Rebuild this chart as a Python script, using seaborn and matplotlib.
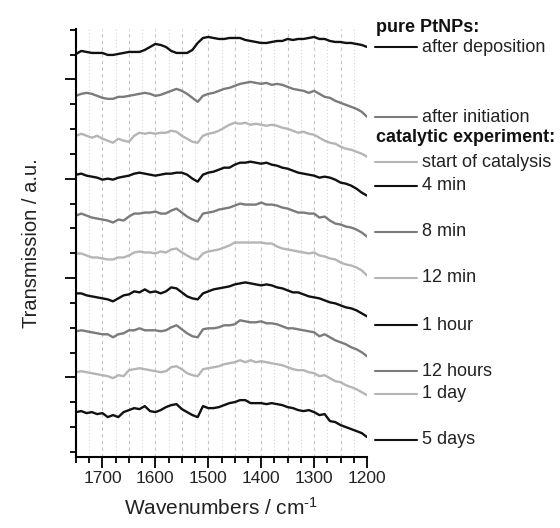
import numpy as np
import pandas as pd
import matplotlib
matplotlib.use("Agg")
import matplotlib.pyplot as plt
import seaborn as sns
from matplotlib.lines import Line2D
from matplotlib.ticker import MultipleLocator, FixedLocator, NullFormatter

sns.set_theme(style="ticks")
plt.rcParams["font.family"] = ["Liberation Sans", "DejaVu Sans"]
plt.rcParams["mathtext.fontset"] = "custom"
plt.rcParams["mathtext.rm"] = "Liberation Sans"
plt.rcParams["mathtext.default"] = "regular"
plt.rcParams["axes.unicode_minus"] = False

# ---------------- data ----------------
wavenumbers = np.arange(1750, 1199, -10)

after_deposition = [
    3.99, 4.02, 4.01, 4.00, 4.00, 4.00, 3.98, 3.98, 3.99, 4.00,
    4.01, 4.01, 4.01, 4.03, 4.06, 4.09, 4.08, 4.06, 4.02, 4.00,
    4.00, 4.00, 4.03, 4.10, 4.15, 4.16, 4.15, 4.14, 4.14, 4.15,
    4.15, 4.15, 4.13, 4.12, 4.11, 4.10, 4.10, 4.11, 4.12, 4.12,
    4.14, 4.13, 4.14, 4.14, 4.15, 4.16, 4.14, 4.14, 4.12, 4.11,
    4.11, 4.10, 4.10, 4.09, 4.08, 4.06]
after_initiation = [
    3.57, 3.59, 3.60, 3.59, 3.57, 3.55, 3.54, 3.54, 3.56, 3.56,
    3.57, 3.58, 3.59, 3.60, 3.59, 3.57, 3.58, 3.60, 3.62, 3.64,
    3.62, 3.59, 3.55, 3.51, 3.57, 3.59, 3.60, 3.62, 3.64, 3.65,
    3.67, 3.69, 3.70, 3.71, 3.70, 3.69, 3.70, 3.68, 3.69, 3.68,
    3.66, 3.64, 3.63, 3.62, 3.60, 3.62, 3.59, 3.56, 3.55, 3.52,
    3.50, 3.48, 3.46, 3.44, 3.41, 3.36]
start_of_catalysis = [
    3.17, 3.19, 3.17, 3.15, 3.17, 3.14, 3.12, 3.10, 3.14, 3.12,
    3.11, 3.17, 3.20, 3.19, 3.20, 3.19, 3.20, 3.20, 3.22, 3.21,
    3.17, 3.14, 3.11, 3.10, 3.17, 3.19, 3.20, 3.22, 3.25, 3.28,
    3.30, 3.29, 3.30, 3.28, 3.29, 3.28, 3.27, 3.28, 3.27, 3.25,
    3.24, 3.22, 3.20, 3.21, 3.19, 3.18, 3.15, 3.12, 3.10, 3.09,
    3.06, 3.04, 3.03, 3.01, 2.99, 2.96]
min_4 = [
    2.78, 2.79, 2.77, 2.76, 2.75, 2.73, 2.74, 2.73, 2.75, 2.76,
    2.77, 2.79, 2.80, 2.79, 2.78, 2.77, 2.78, 2.79, 2.79, 2.80,
    2.80, 2.78, 2.74, 2.71, 2.78, 2.80, 2.81, 2.83, 2.85, 2.85,
    2.88, 2.90, 2.90, 2.91, 2.90, 2.89, 2.90, 2.88, 2.87, 2.85,
    2.84, 2.82, 2.80, 2.79, 2.78, 2.77, 2.75, 2.76, 2.75, 2.73,
    2.70, 2.69, 2.67, 2.64, 2.60, 2.57]
min_8 = [
    2.37, 2.39, 2.37, 2.35, 2.34, 2.33, 2.32, 2.30, 2.33, 2.32,
    2.36, 2.39, 2.39, 2.40, 2.40, 2.41, 2.39, 2.39, 2.42, 2.44,
    2.40, 2.36, 2.33, 2.31, 2.39, 2.40, 2.41, 2.43, 2.44, 2.45,
    2.47, 2.49, 2.48, 2.48, 2.48, 2.50, 2.48, 2.48, 2.47, 2.45,
    2.44, 2.42, 2.40, 2.40, 2.39, 2.39, 2.35, 2.36, 2.32, 2.29,
    2.28, 2.26, 2.25, 2.23, 2.20, 2.16]
min_12 = [
    1.99, 1.99, 1.97, 1.95, 1.95, 1.94, 1.93, 1.93, 1.95, 1.95,
    1.97, 2.00, 2.01, 2.00, 2.00, 1.99, 2.01, 2.00, 2.03, 2.04,
    2.00, 1.97, 1.94, 1.93, 1.99, 2.01, 2.02, 2.03, 2.05, 2.07,
    2.10, 2.10, 2.10, 2.10, 2.10, 2.10, 2.09, 2.09, 2.06, 2.04,
    2.03, 2.02, 2.01, 2.00, 1.99, 2.00, 1.97, 1.96, 1.94, 1.93,
    1.90, 1.88, 1.87, 1.85, 1.82, 1.77]
hour_1 = [
    1.59, 1.59, 1.57, 1.56, 1.55, 1.54, 1.53, 1.51, 1.54, 1.57,
    1.58, 1.61, 1.60, 1.63, 1.60, 1.61, 1.59, 1.61, 1.65, 1.64,
    1.60, 1.56, 1.54, 1.53, 1.59, 1.61, 1.63, 1.64, 1.65, 1.66,
    1.68, 1.69, 1.70, 1.69, 1.68, 1.67, 1.68, 1.67, 1.65, 1.64,
    1.62, 1.60, 1.60, 1.58, 1.56, 1.55, 1.54, 1.52, 1.50, 1.49,
    1.47, 1.45, 1.44, 1.42, 1.39, 1.36]
hours_12 = [
    1.21, 1.22, 1.21, 1.20, 1.19, 1.18, 1.18, 1.15, 1.18, 1.19,
    1.22, 1.22, 1.24, 1.22, 1.22, 1.22, 1.21, 1.22, 1.25, 1.27,
    1.23, 1.19, 1.16, 1.15, 1.23, 1.24, 1.24, 1.25, 1.27, 1.27,
    1.28, 1.32, 1.31, 1.30, 1.30, 1.31, 1.29, 1.29, 1.28, 1.26,
    1.24, 1.24, 1.23, 1.22, 1.21, 1.20, 1.16, 1.18, 1.15, 1.12,
    1.10, 1.08, 1.05, 1.03, 1.00, 0.96]
day_1 = [
    0.80, 0.81, 0.80, 0.79, 0.78, 0.77, 0.76, 0.74, 0.77, 0.76,
    0.82, 0.83, 0.84, 0.83, 0.82, 0.81, 0.80, 0.81, 0.85, 0.86,
    0.83, 0.79, 0.77, 0.76, 0.83, 0.84, 0.85, 0.86, 0.88, 0.89,
    0.90, 0.92, 0.90, 0.92, 0.90, 0.91, 0.90, 0.89, 0.88, 0.87,
    0.85, 0.83, 0.82, 0.82, 0.80, 0.79, 0.76, 0.77, 0.74, 0.71,
    0.70, 0.67, 0.65, 0.63, 0.60, 0.57]
days_5 = [
    0.40, 0.41, 0.39, 0.40, 0.38, 0.39, 0.35, 0.37, 0.35, 0.40,
    0.42, 0.44, 0.43, 0.46, 0.41, 0.40, 0.42, 0.45, 0.47, 0.48,
    0.43, 0.40, 0.37, 0.35, 0.46, 0.44, 0.44, 0.45, 0.47, 0.49,
    0.50, 0.52, 0.52, 0.49, 0.49, 0.49, 0.48, 0.49, 0.48, 0.47,
    0.45, 0.44, 0.42, 0.41, 0.42, 0.40, 0.37, 0.38, 0.31, 0.30,
    0.27, 0.25, 0.23, 0.21, 0.19, 0.15]

series_labels = ["after deposition", "after initiation", "start of catalysis",
                 "4 min", "8 min", "12 min", "1 hour", "12 hours", "1 day", "5 days"]
series_values = [after_deposition, after_initiation, start_of_catalysis,
                 min_4, min_8, min_12, hour_1, hours_12, day_1, days_5]
group_titles = ["pure PtNPs:", "catalytic experiment:"]
xtick_values = [1700, 1600, 1500, 1400, 1300, 1200]

# ---------------- styling ----------------
BLACK, GRAY, LIGHT = "#111111", "#7b7b7b", "#b5b5b5"
colors = [BLACK, GRAY, LIGHT, BLACK, GRAY, LIGHT, BLACK, GRAY, LIGHT, BLACK]
palette = dict(zip(series_labels, colors))

df = pd.concat(
    [pd.DataFrame({"wn": wavenumbers, "T": vals, "series": lab})
     for lab, vals in zip(series_labels, series_values)],
    ignore_index=True)

W, H = 560, 528
fig = plt.figure(figsize=(W / 100, H / 100), dpi=100)
ax = fig.add_axes([76 / W, 1 - 457 / H, 291 / W, 428 / H])

# grid lines (behind)
for g in range(1725, 1200, -25):
    if g % 50 == 0:
        ax.axvline(g, color="#c4c4c4", lw=0.8, ls=(0, (3, 3)), zorder=0)
    else:
        ax.axvline(g, color="#d6d6d6", lw=0.8, ls=(0, (1, 2)), zorder=0)

sns.lineplot(data=df, x="wn", y="T", hue="series", hue_order=series_labels,
             palette=palette, estimator=None, legend=False, lw=1.7, ax=ax)

ax.set_xlim(1750, 1200)
ax.set_ylim(-0.05, 4.24)
ax.set_xticks(xtick_values)
ax.set_xticklabels([str(v) for v in xtick_values])
ax.xaxis.set_minor_locator(MultipleLocator(25))
yt = np.arange(18) * 0.249
ax.yaxis.set_major_locator(FixedLocator(yt[[3, 7, 11, 15]]))
ax.yaxis.set_minor_locator(FixedLocator(yt))
ax.yaxis.set_major_formatter(NullFormatter())

ax.tick_params(which="major", direction="out", length=8, width=1.3,
               color="black", labelsize=12.5, pad=2, labelcolor="#222222")
ax.tick_params(which="minor", direction="out", length=4.5, width=1.3, color="black")
for s in ["left", "bottom"]:
    ax.spines[s].set_linewidth(1.5)
    ax.spines[s].set_color("black")
sns.despine(ax=ax)

ax.set_xlabel(r"Wavenumbers / cm$^{\text{-1}}$", fontsize=15, color="#222222")
ax.xaxis.set_label_coords(0.5, -0.093)
ax.set_ylabel("Transmission / a.u.", fontsize=14.5, color="#222222")
ax.yaxis.set_label_coords(-0.12, 0.5)

# ---------------- legend ----------------
def fx(x):
    return x / W

def fy(y):
    return 1 - y / H

legend_rows = [47, 117, 162, 186, 232, 278, 325, 371, 394, 440]
for lab, col, yy in zip(series_labels, colors, legend_rows):
    fig.add_artist(Line2D([fx(375), fx(417)], [fy(yy), fy(yy)], color=col, lw=1.5))
    fig.text(fx(422), fy(yy), lab, fontsize=13, color="#222222",
             ha="left", va="center")
for title, yy in zip(group_titles, [27, 137]):
    fig.text(fx(376), fy(yy), title, fontsize=13, fontweight="bold",
             color="#111111", ha="left", va="center")

fig.savefig("out.png", dpi=100)
